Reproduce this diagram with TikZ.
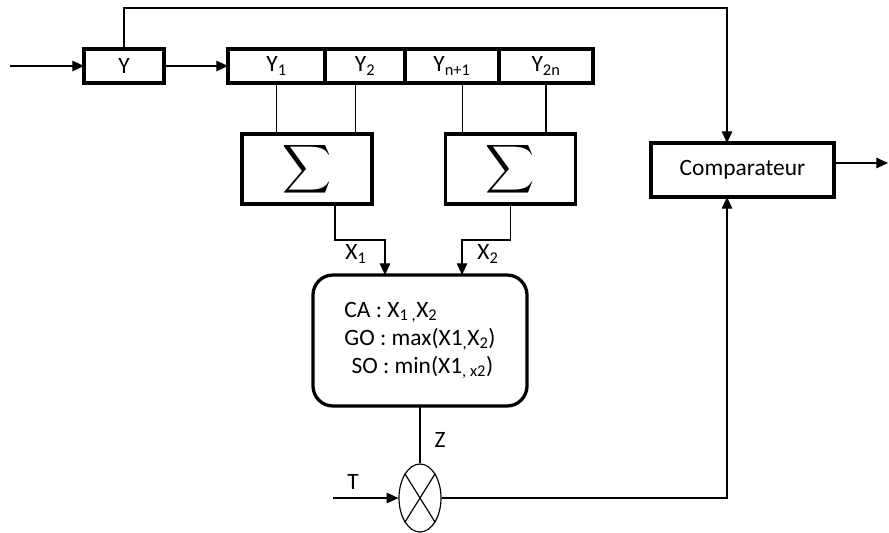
\documentclass[tikz,border=0pt]{standalone}
\usepackage{fontspec}
\setmainfont{Carlito}
\usetikzlibrary{shapes.geometric, arrows.meta, positioning, calc}

\newcommand{\bigsum}{\scalebox{2.9}{\fontsize{10}{12}\selectfont$\displaystyle\sum$}}

\begin{document}
\begin{tikzpicture}[
  x=0.03cm, y=-0.03cm,
  font=\fontsize{20}{24}\selectfont,
  box/.style={rectangle, draw, line width=2.8pt, outer sep=0pt,
              inner sep=0pt, align=center},
  cell/.style={box, minimum height=1.02cm},
  sumbox/.style={box, minimum width=3.9cm, minimum height=2.1cm},
  wire/.style={line width=1pt},
  arrow/.style={wire, -{Triangle[length=10pt, width=9pt]}},
]
\useasboundingbox (0,0) rectangle (889,533);

% input and shift register
\node[cell, minimum width=2.4cm] (y) at (124,66) {Y};
\node[cell, minimum width=2.91cm] (y1) at (276.5,66) {Y\textsubscript{1}};
\node[cell, minimum width=2.4cm, right=0pt of y1] (y2) {Y\textsubscript{2}};
\node[cell, minimum width=2.82cm, right=0pt of y2] (yn) {Y\textsubscript{n+1}};
\node[cell, minimum width=2.82cm, right=0pt of yn] (y2n) {Y\textsubscript{2n}};
\coordinate (in) at (10,66);
\draw[arrow] (in) -- (y);
\draw[arrow] (y) -- (y1);

% the two sums
\node[sumbox] (s1) at (307,169) {\bigsum};
\node[sumbox] (s2) at (510.5,169) {\bigsum};
\coordinate (s1b) at ($(s1.north west)!0.87!(s1.north east)$);
\coordinate (s2a) at ($(s2.north west)!0.13!(s2.north east)$);
\draw[wire] (y1.south) -- (y1.south |- s1.north);
\draw[wire] (s1b |- y2.south) -- (s1b);
\draw[wire] (s2a |- yn.south) -- (s2a);
\draw[wire] (y2n.south) -- (y2n.south |- s2.north);

% decision block
\node[box, rounded corners=0.6cm, minimum width=6.42cm, minimum height=3.93cm,
      align=left] (ca) at (420,340.5)
  {CA : X\textsubscript{1 ,}X\textsubscript{2}\\
   GO : max(X1\textsubscript{,}X\textsubscript{2})\\
   \hspace*{0.3em}SO : min(X1\textsubscript{, x2})};
\coordinate (s1o) at ($(s1.south)+(28,0)$);
\coordinate (x1in) at ($(ca.north)+(-35,0)$);
\coordinate (x2in) at ($(ca.north)+(42,0)$);
\draw[arrow] (s1o) -- ++(0,36) -| (x1in);
\draw[arrow] (s2.south) -- ++(0,36) -| (x2in);
\node (x1lab) at (356,254) {X\textsubscript{1}};
\node (x2lab) at (488,254) {X\textsubscript{2}};

% multiplier with threshold T
\node[ellipse, draw, line width=1pt, minimum width=1.26cm,
      minimum height=2.04cm, inner sep=0pt] (mul) at (420,498) {};
\draw[wire] (mul.north west) -- (mul.south east)
            (mul.north east) -- (mul.south west);
\draw[wire] (ca) -- (mul);
\node (zlab) at (440,440) {Z};
\coordinate (tin) at (333,498);
\draw[arrow] (tin) -- (mul);
\node (tlab) at (353,482) {T};

% comparator
\node[box, minimum width=5.49cm, minimum height=1.62cm] (comp) at (742.5,170) {Comparateur};
\coordinate (rail) at (400,8);
\coordinate (tapN) at ($(comp.north)+(-15.5,0)$);
\coordinate (tapS) at ($(comp.south)+(-15.5,0)$);
\draw[arrow] (y.north) |- (rail) -| (tapN);
\draw[arrow] (mul) -| (tapS);
\coordinate (out) at (888,163);
\draw[arrow] (comp.east |- out) -- (out);

\end{tikzpicture}
\end{document}
